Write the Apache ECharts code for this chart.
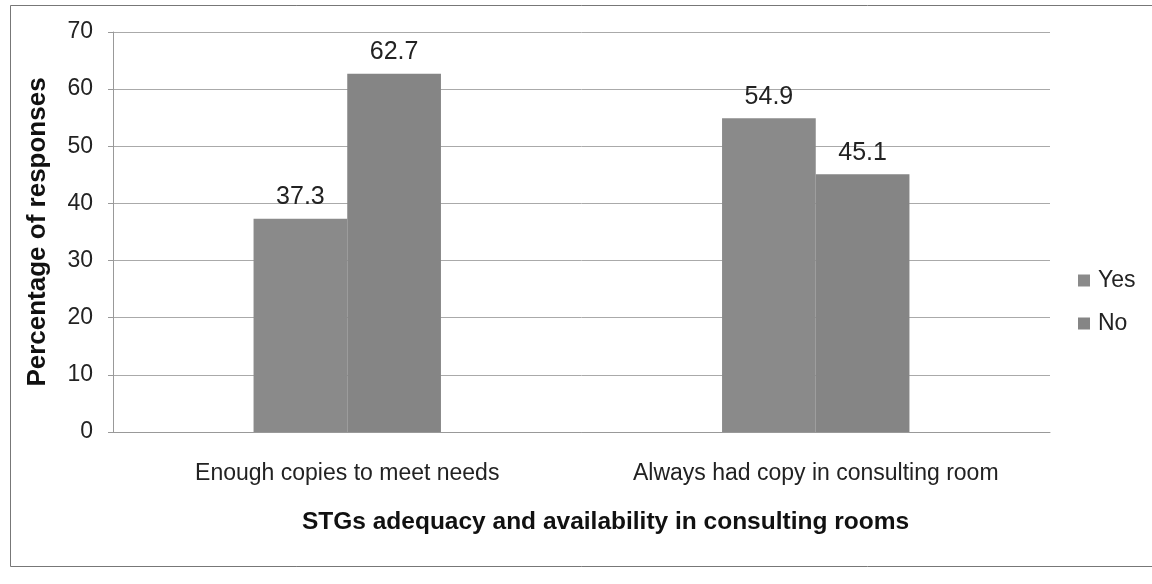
<!DOCTYPE html>
<html>
<head>
<meta charset="utf-8">
<script src="https://cdn.jsdelivr.net/npm/echarts@6/dist/echarts.min.js"></script>
<style>html,body{margin:0;padding:0;background:#fff}#c{width:1152px;height:584px}</style>
</head>
<body>
<div id="c"></div>
<script>
const categories = ['Enough copies to meet needs', 'Always had copy in consulting room'];
const yesValues = [37.3, 54.9];
const noValues = [62.7, 45.1];
const seriesNames = ['Yes', 'No'];
const yTicks = [0, 10, 20, 30, 40, 50, 60, 70];

const font = '"Liberation Sans", Arial, sans-serif';
const chart = echarts.init(document.getElementById('c'), null, {renderer: 'canvas'});
const labelStyle = {show: true, position: 'top', distance: 9, fontFamily: font, fontSize: 25, color: '#222'};
chart.setOption({
  animation: false,
  backgroundColor: '#fff',
  textStyle: {fontFamily: font},
  graphic: [{
    type: 'rect', shape: {x: 10.5, y: 5.5, width: 1160, height: 561},
    style: {fill: 'none', stroke: '#777', lineWidth: 1}, silent: true, z: -1
  }],
  grid: {left: 113, right: 102, top: 32, bottom: 152, containLabel: false},
  legend: {
    data: seriesNames, orient: 'vertical', left: 1073, top: 264, itemGap: 20,
    itemWidth: 12, itemHeight: 12, icon: 'rect',
    textStyle: {fontFamily: font, fontSize: 23, color: '#222', padding: [0,0,0,3]}
  },
  xAxis: {
    type: 'category', data: categories,
    name: 'STGs adequacy and availability in consulting rooms',
    nameLocation: 'middle', nameGap: 78,
    nameTextStyle: {fontFamily: font, fontSize: 24.5, fontWeight: 'bold', color: '#111', padding: [0,0,0,48]},
    axisLine: {lineStyle: {color: '#999'}},
    axisTick: {show: false},
    axisLabel: {interval: 0, fontFamily: font, fontSize: 23, color: '#222', margin: 30}
  },
  yAxis: {
    type: 'value', min: 0, max: 70, interval: 10,
    name: 'Percentage of responses', nameLocation: 'middle', nameGap: 62,
    nameTextStyle: {fontFamily: font, fontSize: 26, fontWeight: 'bold', color: '#111'},
    axisLine: {show: true, lineStyle: {color: '#999'}},
    axisTick: {show: true, length: 5, lineStyle: {color: '#999'}},
    axisLabel: {fontFamily: font, fontSize: 23, color: '#222', margin: 20,
      formatter: v => yTicks.includes(v) ? String(v) : ''},
    splitLine: {lineStyle: {color: '#aaa', width: 1}}
  },
  series: [
    {name: seriesNames[0], type: 'bar', data: yesValues, barGap: '0%', barCategoryGap: '60%',
      itemStyle: {color: '#8a8a8a'}, label: labelStyle},
    {name: seriesNames[1], type: 'bar', data: noValues, barGap: '0%', barCategoryGap: '60%',
      itemStyle: {color: '#858585'}, label: labelStyle}
  ]
});
</script>
</body>
</html>
